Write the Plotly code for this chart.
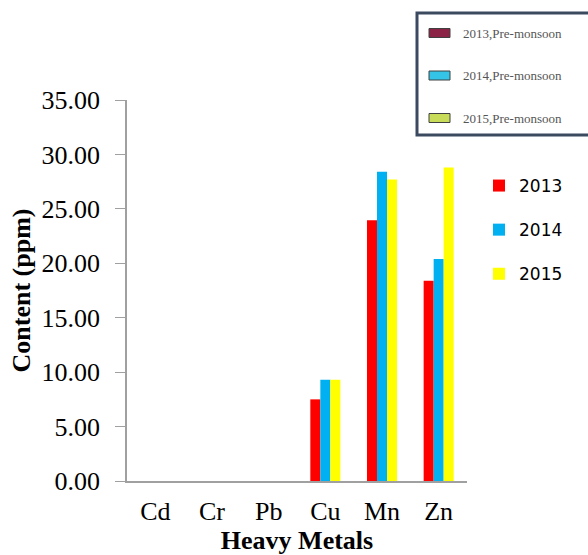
import plotly.graph_objects as go

metals = ["Cd", "Cr", "Pb", "Cu", "Mn", "Zn"]
v2013 = [0, 0, 0, 7.5, 23.95, 18.4]
v2014 = [0, 0, 0, 9.3, 28.4, 20.4]
v2015 = [0, 0, 0, 9.3, 27.7, 28.8]
years = ["2013", "2014", "2015"]
colors = ["#FF0000", "#00B0F0", "#FFFF00"]
inset_labels = ["2013,Pre-monsoon", "2014,Pre-monsoon", "2015,Pre-monsoon"]
inset_colors = ["#8B2346", "#33C4E8", "#C8DC5A"]

fig = go.Figure()
for i, (name, vals) in enumerate(zip(years, [v2013, v2014, v2015])):
    fig.add_trace(go.Bar(x=metals, y=vals, name=name, marker_color=colors[i],
                         marker_line_width=0, legendgroup=name))

FW, FH = 588, 555
L, T, W, H = 127, 100, 340, 381
def px(x):  # screen x -> paper
    return (x - L) / W
def py(y):  # screen y -> paper
    return (T + H - y) / H

shapes = [dict(type="rect", xref="paper", yref="paper",
               x0=px(417), x1=px(700), y0=py(13), y1=py(135),
               line=dict(color="#3c4a60", width=3), fillcolor="white", layer="above")]
annotations = []
for i, (lab, c) in enumerate(zip(inset_labels, inset_colors)):
    yc = 33 + i * 42.5
    shapes.append(dict(type="rect", xref="paper", yref="paper",
                       x0=px(429), x1=px(450), y0=py(yc - 4.5), y1=py(yc + 4.5),
                       line=dict(color="#404040", width=1), fillcolor=c, layer="above"))
    annotations.append(dict(xref="paper", yref="paper", x=px(461), y=py(yc),
                            text=lab, showarrow=False, xanchor="left", yanchor="middle",
                            font=dict(family="Liberation Serif", size=13, color="#555555")))

fig.update_layout(
    width=FW, height=FH,
    margin=dict(l=L, r=FW - L - W, t=T, b=FH - T - H, pad=0, autoexpand=False),
    paper_bgcolor="white", plot_bgcolor="white",
    barmode="group", bargap=0.47, bargroupgap=0,
    font=dict(family="Liberation Serif", size=26, color="#000000"),
    showlegend=True,
    legend=dict(x=px(479), y=py(168), xanchor="left", yanchor="top",
                font=dict(family="DejaVu Sans", size=17, color="#000000"),
                tracegroupgap=19, itemwidth=30, bgcolor="rgba(0,0,0,0)"),
    xaxis=dict(showline=True, linecolor="#A0A0A0", linewidth=1.5, ticks="",
               ticklabelstandoff=6, automargin=False,
               title=dict(text="<b>Heavy Metals</b>", standoff=14,
                          font=dict(family="Liberation Serif", size=26)),
               tickfont=dict(family="Liberation Serif", size=26)),
    yaxis=dict(range=[0, 35], dtick=5, tickformat=".2f", showline=True,
               linecolor="#A0A0A0", linewidth=1.5, ticks="outside", ticklen=10,
               tickcolor="#A0A0A0", showgrid=False, zeroline=False,
               ticklabelstandoff=10, automargin=False,
               title=dict(text="<b>Content (ppm)</b>", standoff=3,
                          font=dict(family="Liberation Serif", size=26)),
               tickfont=dict(family="Liberation Serif", size=26)),
    shapes=shapes, annotations=annotations,
)

fig.write_html("out.html", config={"displayModeBar": False},
               post_script="document.body.style.margin='0';document.body.style.overflow='hidden';")
